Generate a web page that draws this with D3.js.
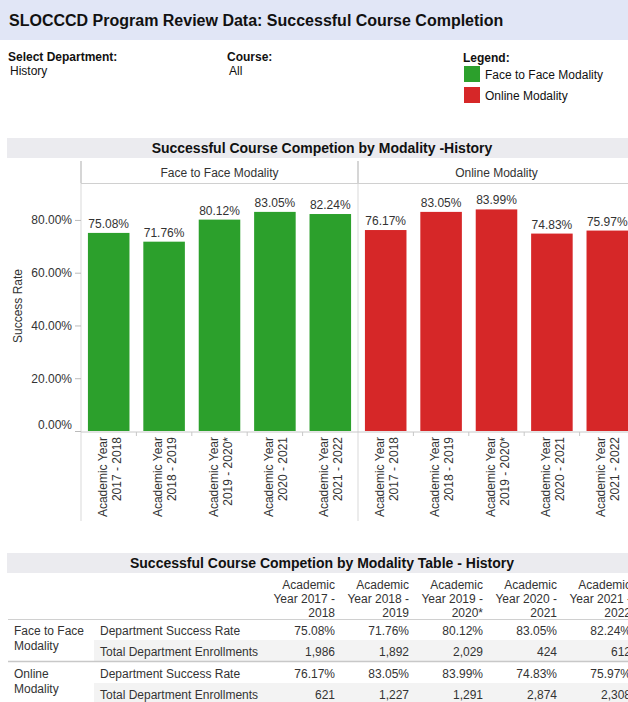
<!DOCTYPE html>
<html>
<head>
<meta charset="utf-8">
<script src="https://cdn.jsdelivr.net/npm/d3@7"></script>
<style>
  body { margin: 0; background: #fff; }
  svg text { font-family: "Liberation Sans", Arial, sans-serif; fill: #333; }
</style>
</head>
<body>
<div id="chart"></div>
<script>
// data
var years = ["2017 - 2018", "2018 - 2019", "2019 - 2020*", "2020 - 2021", "2021 - 2022"];
var modalities = ["Face to Face Modality", "Online Modality"];
var f2fRate = [75.08, 71.76, 80.12, 83.05, 82.24];
var onlineRate = [76.17, 83.05, 83.99, 74.83, 75.97];
var f2fEnroll = [1986, 1892, 2029, 424, 612];
var onlineEnroll = [621, 1227, 1291, 2874, 2308];
var yTicks = [0, 20, 40, 60, 80];
var colors = ["#2ca02c", "#d62728"];

var rates = [f2fRate, onlineRate];
var enrolls = [f2fEnroll, onlineEnroll];

var W = 628, H = 702;
var svg = d3.select("#chart").append("svg")
  .attr("width", W)
  .attr("height", H);

// ---- page header
svg.append("rect").attr("x", 0).attr("y", 0).attr("width", W).attr("height", 40)
  .attr("fill", "#e1e6f6");
svg.append("text").attr("x", 9).attr("y", 26)
  .style("font-size", "16px").style("font-weight", "bold").style("fill", "#111")
  .text("SLOCCCD Program Review Data: Successful Course Completion");

function field(x, y, label, value) {
  svg.append("text").attr("x", x).attr("y", y)
    .style("font-size", "12px").style("font-weight", "bold").style("fill", "#111")
    .text(label);
  if (value) {
    svg.append("text").attr("x", x + 2).attr("y", y + 14)
      .style("font-size", "12px").style("fill", "#111").text(value);
  }
}
field(8, 61, "Select Department:", "History");
field(227, 61, "Course:", "All");
field(463, 62, "Legend:");

var legend = svg.append("g").selectAll("g")
  .data(modalities)
  .enter().append("g")
  .attr("transform", function(d, i) { return "translate(464," + (66 + i * 21) + ")"; });
legend.append("rect").attr("width", 16).attr("height", 16)
  .attr("fill", function(d, i) { return colors[i]; });
legend.append("text").attr("x", 21).attr("y", 12.5)
  .style("font-size", "12px").style("fill", "#111")
  .text(function(d) { return d; });

// ---- chart
function band(y, h, title) {
  svg.append("rect").attr("x", 7).attr("y", y).attr("width", W - 7).attr("height", h)
    .attr("fill", "#ebebef");
  svg.append("text").attr("x", 322).attr("y", y + h / 2 + 5)
    .attr("text-anchor", "middle")
    .style("font-size", "14px").style("font-weight", "bold").style("fill", "#111")
    .text(title);
}
band(138, 20, "Successful Course Competion by Modality -History");

var y = d3.scaleLinear().domain([0, 94]).range([431, 183]);
var panel = d3.scaleBand().domain(modalities).range([81, 635]);
var x = d3.scaleBand().domain(years).range([0, panel.bandwidth()])
  .paddingInner(0.25).paddingOuter(0.125);

// grid frame lines
var frame = svg.append("g");
panel.domain().forEach(function(m) {
  var px = panel(m);
  frame.append("line").attr("x1", px).attr("x2", px).attr("y1", 161).attr("y2", 183)
    .attr("stroke", "#c8c8c8").attr("stroke-width", 1.5);
  frame.append("line").attr("x1", px).attr("x2", px).attr("y1", 183).attr("y2", 521)
    .attr("stroke", "#d9d9d9");
  svg.append("text").attr("x", px + panel.bandwidth() / 2).attr("y", 177)
    .attr("text-anchor", "middle").style("font-size", "12px")
    .text(m);
});
frame.append("line").attr("x1", 81).attr("x2", W).attr("y1", 183.5).attr("y2", 183.5)
  .attr("stroke", "#d0d0d0");
frame.append("line").attr("x1", 81).attr("x2", W).attr("y1", 432).attr("y2", 432)
  .attr("stroke", "#c8c8c8");

// y axis
var yAxis = svg.append("g").attr("transform", "translate(81,0)")
  .call(d3.axisLeft(y).tickValues(yTicks).tickSize(6).tickPadding(3)
    .tickFormat(function(d) { return d.toFixed(2) + "%"; }));
yAxis.select(".domain").remove();
yAxis.selectAll(".tick line").attr("stroke", "#bbb");
yAxis.selectAll(".tick text").style("font-size", "12px").style("fill", "#333")
  .style("font-family", "'Liberation Sans', Arial, sans-serif")
  .attr("dy", function(d) { return d === 0 ? "-0.2em" : "0.32em"; });

svg.append("text")
  .attr("transform", "translate(22,306) rotate(-90)")
  .attr("text-anchor", "middle").style("font-size", "12px")
  .text("Success Rate");

// bars per panel
modalities.forEach(function(m, mi) {
  var g = svg.append("g").attr("transform", "translate(" + panel(m) + ",0)");
  var data = years.map(function(yr, i) { return { year: yr, value: rates[mi][i] }; });

  g.selectAll("rect.bar").data(data).enter().append("rect")
    .attr("class", "bar")
    .attr("x", function(d) { return x(d.year); })
    .attr("width", x.bandwidth())
    .attr("y", function(d) { return y(d.value); })
    .attr("height", function(d) { return y(0) - y(d.value); })
    .attr("fill", colors[mi]);

  g.selectAll("text.val").data(data).enter().append("text")
    .attr("class", "val")
    .attr("x", function(d) { return x(d.year) + x.bandwidth() / 2; })
    .attr("y", function(d) { return y(d.value) - 5; })
    .attr("text-anchor", "middle").style("font-size", "12px")
    .text(function(d) { return d.value.toFixed(2) + "%"; });

  // tick marks between categories
  years.slice(1).forEach(function(yr) {
    var bx = x(yr) - x.step() * x.paddingInner() / 2;
    g.append("line").attr("x1", bx).attr("x2", bx).attr("y1", 432).attr("y2", 436)
      .attr("stroke", "#c8c8c8");
  });

  var lab = g.selectAll("text.xl").data(years).enter().append("text")
    .attr("class", "xl")
    .attr("transform", function(d) {
      return "translate(" + (x(d) + x.bandwidth() / 2) + ",437) rotate(-90)";
    })
    .attr("text-anchor", "end").style("font-size", "12px");
  lab.append("tspan").attr("x", 0).attr("y", -2).text("Academic Year");
  lab.append("tspan").attr("x", 0).attr("y", 12).text(function(d) { return d; });
});

// ---- table
band(553, 20, "Successful Course Competion by Modality Table - History");

var colRight = d3.scalePoint().domain(years).range([335, 631]);
var head = svg.append("g").selectAll("text").data(years).enter().append("text")
  .attr("text-anchor", "end").style("font-size", "12px");
head.append("tspan").attr("x", function(d) { return colRight(d); }).attr("y", 589).text("Academic");
head.append("tspan").attr("x", function(d) { return colRight(d); }).attr("y", 603)
  .text(function(d) { return "Year " + d.split(" - ")[0] + " -"; });
head.append("tspan").attr("x", function(d) { return colRight(d); }).attr("y", 617)
  .text(function(d) { return d.split(" - ")[1]; });

svg.append("line").attr("x1", 8).attr("x2", W).attr("y1", 619.5).attr("y2", 619.5)
  .attr("stroke", "#d0d0d0");

var rowLabels = ["Department Success Rate", "Total Department Enrollments"];
var groupLabels = [["Face to Face", "Modality"], ["Online", "Modality"]];
var fmtInt = d3.format(",");

modalities.forEach(function(m, mi) {
  var top = 620 + mi * 43;
  // shaded second row
  svg.append("rect").attr("x", 94).attr("y", top + 20).attr("width", W - 94).attr("height", 21)
    .attr("fill", "#f3f3f3");
  var gl = svg.append("text").attr("x", 14).style("font-size", "12px");
  gl.append("tspan").attr("x", 14).attr("y", top + 15).text(groupLabels[mi][0]);
  gl.append("tspan").attr("x", 14).attr("y", top + 30).text(groupLabels[mi][1]);

  rowLabels.forEach(function(r, ri) {
    var ty = top + 15 + ri * 21;
    svg.append("text").attr("x", 100).attr("y", ty).style("font-size", "12px").text(r);
    svg.selectAll(null).data(years).enter().append("text")
      .attr("x", function(d) { return colRight(d); })
      .attr("y", ty).attr("text-anchor", "end").style("font-size", "12px")
      .text(function(d, i) {
        return ri === 0 ? rates[mi][i].toFixed(2) + "%" : fmtInt(enrolls[mi][i]);
      });
  });
});
svg.append("line").attr("x1", 8).attr("x2", W).attr("y1", 661.5).attr("y2", 661.5)
  .attr("stroke", "#c8c8c8").attr("stroke-width", 1.5);
</script>
</body>
</html>
